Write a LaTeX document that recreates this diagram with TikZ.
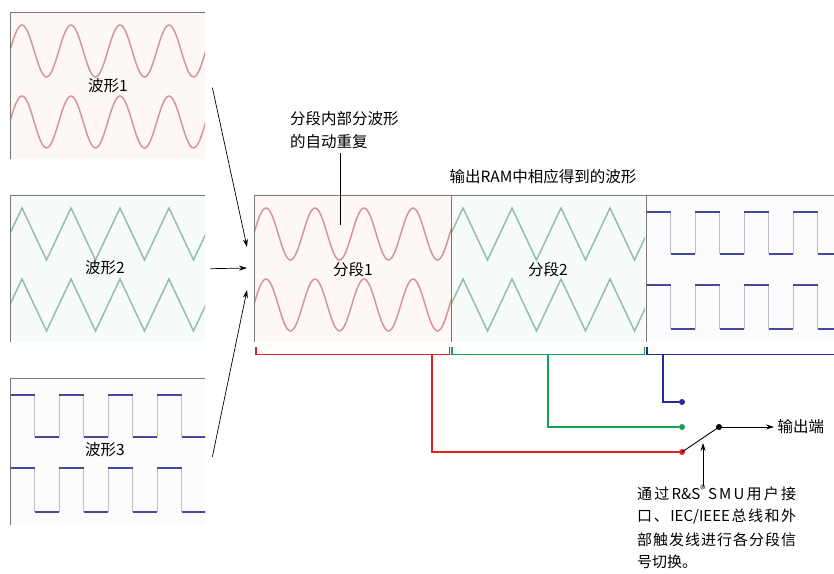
\documentclass[tikz,border=0pt]{standalone}
\usepackage{fontspec}
\setmainfont{Noto Sans CJK SC}
\usetikzlibrary{positioning, calc, arrows.meta}
\definecolor{sinecol}{RGB}{212,150,150}
\definecolor{tricol}{RGB}{150,190,172}
\definecolor{sqcol}{RGB}{72,72,160}
\definecolor{sqgray}{RGB}{190,190,202}
\definecolor{framecol}{RGB}{120,120,120}
\definecolor{segred}{RGB}{228,30,40}
\definecolor{seggreen}{RGB}{25,160,85}
\definecolor{segblue}{RGB}{40,40,150}

% forme d'onda dentro un pannello (nodo, larghezza)
\newcommand{\sinerows}[2]{%
  \begin{scope}[shift={(#1.north west)}]
    \clip (0,0) rectangle (#2,147);
    \foreach \c in {39,110}
      \draw[sinew] plot[domain=-5:205, samples=120] (\x,{\c-26*cos((\x-12)/49*360)});
  \end{scope}}
\newcommand{\trirows}[2]{%
  \begin{scope}[shift={(#1.north west)}]
    \clip (0,0) rectangle (#2,147);
    \foreach \c in {39,110}
      \draw[triw] (-12.5,\c+26) \foreach \k in {0,...,4} { -- ({12+49*\k},\c-26) -- ({36.5+49*\k},\c+26) };
  \end{scope}}
\newcommand{\sqrows}[2]{%
  \begin{scope}[shift={(#1.north west)}]
    \clip (0,0) rectangle (#2,147);
    \foreach \hi/\lo in {17/59,90/134}
      \foreach \k in {0,...,4} {
        \draw[sqv] ({49*\k+24.5},\hi) -- ({49*\k+24.5},\lo) ({49*\k+49},\lo) -- ({49*\k+49},\hi);
        \draw[sqh] ({49*\k},\hi) -- ++(24.5,0);
        \draw[sqh] ({49*\k+24.5},\lo) -- ++(24.5,0);
      }
  \end{scope}}

\begin{document}
\begin{tikzpicture}[x=1pt, y=-1pt,
    font=\fontsize{15.5}{18}\selectfont,
    panel/.style={minimum width=#1, minimum height=147pt, inner sep=0pt, anchor=north west},
    sinew/.style={sinecol, line width=1.5pt},
    triw/.style={tricol, line width=1.5pt},
    sqh/.style={sqcol, line width=1.8pt},
    sqv/.style={sqgray, line width=0.8pt},
    border/.style={framecol, line width=0.8pt},
    arr/.style={-{Stealth[length=8pt, width=5pt]}, line width=0.7pt},
    seg/.style={line width=1.1pt},
    dot/.style={circle, fill, inner sep=0pt, minimum size=6pt},
    notetext/.style={anchor=west, inner sep=1pt, font=\fontsize{15}{17}\selectfont}]
    \useasboundingbox (0,0) rectangle (834,573);

    % pannelli a sinistra
    \node[panel=195pt, fill={rgb,255:red,253;green,248;blue,246}] (wave1) at (10,12) {};
    \node[panel=195pt, fill={rgb,255:red,247;green,251;blue,249}] (wave2) at (10,195) {};
    \node[panel=195pt, fill={rgb,255:red,252;green,252;blue,253}] (wave3) at (10,378) {};
    \sinerows{wave1}{195}
    \trirows{wave2}{195}
    \sqrows{wave3}{195}
    \foreach \p in {wave1,wave2,wave3}
      \draw[border] (\p.south west) -- (\p.north west) -- (\p.north east);
    \node (lab1) at (108,86) {波形1};
    \node (lab2) at (105,268) {波形2};
    \node (lab3) at (105,450) {波形3};

    % RAM di uscita
    \node[panel=197pt, fill={rgb,255:red,253;green,247;blue,245}] (seg1) at (254,195) {};
    \node[panel=194pt, fill={rgb,255:red,247;green,251;blue,249}] (seg2) at (451,195) {};
    \node[panel=190pt, fill={rgb,255:red,252;green,252;blue,254}] (seg3) at (646,195) {};
    \sinerows{seg1}{197}
    \trirows{seg2}{194}
    \sqrows{seg3}{190}
    \draw[border] (seg1.south west) -- (seg1.north west) -- (seg3.north east);
    \draw[border] (seg2.north west) -- (seg2.south west);
    \draw[border] (seg3.north west) -- (seg3.south west);
    \node (s1) at (353,270) {分段1};
    \node (s2) at (548,270) {分段2};
    \node (title) at (543,177) {输出RAM中相应得到的波形};
    \node[align=left, anchor=north west, inner sep=0pt, font=\fontsize{15.5}{23}\selectfont] (rep) at (290,111) {分段内部分波形\\的自动重复};
    \coordinate (reptip) at (340,225);
    \draw[line width=0.7pt] ([yshift=-4pt]rep.south -| reptip) -- (reptip);

    % frecce di ingresso
    \coordinate (in1) at (247,247);
    \coordinate (in2) at (247,268);
    \coordinate (in3) at (247,290);
    \draw[arr] ([xshift=7pt, yshift=-2pt]wave1.east) -- (in1);
    \draw[arr] ([xshift=5pt]wave2.east) -- (in2);
    \draw[arr] ([xshift=7pt, yshift=-5pt]wave3.east) -- (in3);

    % parentesi sotto i segmenti
    \draw[seg, segred] ($(seg1.south west)+(2,5)$) -- ++(0,7) -- ($(seg1.south east)+(-2,12)$) -- ++(0,-7);
    \draw[seg, seggreen] ($(seg2.south west)+(1,5)$) -- ++(0,7) -- ($(seg2.south east)+(-1,12)$) -- ++(0,-7);
    \draw[seg, segblue] ($(seg3.south west)+(1,5)$) -- ++(0,7) -- ($(seg3.south east)+(0,12)$);

    % commutatore
    \node[dot, segred] (redin) at (682,452) {};
    \node[dot, seggreen] (greenin) at (682,427) {};
    \node[dot, segblue] (bluein) at (682,402) {};
    \node[dot] (sw) at (719,427) {};
    \coordinate (reddrop) at (432,354);
    \coordinate (greendrop) at (548,354);
    \coordinate (bluedrop) at (663,354);
    \draw[seg, segred] (reddrop) |- (redin);
    \draw[seg, seggreen] (greendrop) |- (greenin);
    \draw[seg, segblue] (bluedrop) |- (bluein);
    \draw[line width=0.9pt] (redin.center) -- (sw.center);
    \node[anchor=west] (out) at (774,427) {输出端};
    \draw[arr] (sw) -- (out.west);

    % nota
    \node[notetext] (note1) at (636,493) {\makebox[159pt][s]{通\hfill 过\hfill R\&S\textsuperscript{®}\hfill S\hfill M\hfill U\hfill 用\hfill 户\hfill 接}};
    \node[notetext] (note2) at (636,517) {\makebox[159pt][s]{口\hfill 、\hfill IEC/IEEE\hfill 总\hfill 线\hfill 和\hfill 外}};
    \node[notetext] (note3) at (636,540) {\makebox[159pt][s]{部\hfill 触\hfill 发\hfill 线\hfill 进\hfill 行\hfill 各\hfill 分\hfill 段\hfill 信}};
    \node[notetext] (note4) at (636,562) {\makebox[59pt][s]{号\hfill 切\hfill 换\hfill 。}};
    \coordinate (lever) at (703,443);
    \draw[arr] ([yshift=-2pt]note1.north -| lever) -- (lever);
\end{tikzpicture}
\end{document}
